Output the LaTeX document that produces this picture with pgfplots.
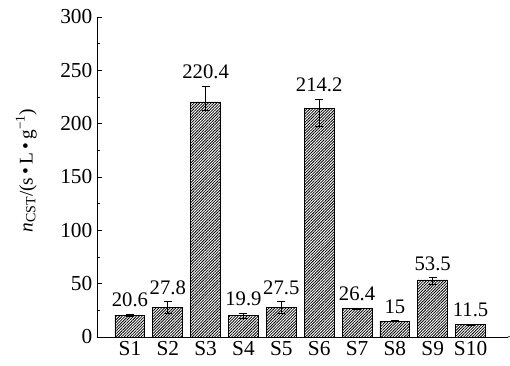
\documentclass[border=0pt]{standalone}
\usepackage{fontspec}
\setmainfont{Liberation Serif}
\usepackage{pgfplots}
\pgfplotsset{compat=1.18}
\usepackage{pgfplotstable}
\usetikzlibrary{patterns.meta}

% sample, value, upper and lower error
\pgfplotstableread{
x  y      ep    em
0  20.6   1.0   1.0
1  27.8   5.5   5.5
2  220.4  15.0  8.0
3  19.9   2.5   2.5
4  27.5   5.5   5.5
5  214.2  9.0   17.0
6  26.4   0.8   0.8
7  15.0   0.6   0.6
8  53.5   2.0   4.0
9  11.5   0.6   0.6
}\cstdata

\begin{document}
\begin{tikzpicture}
\begin{axis}[
  name=ax,
  scale only axis,
  width=308pt, height=240pt,
  xmin=-0.87, xmax=9.98,
  ymin=0, ymax=300,
  axis lines=left,
  axis line style={-, line width=0.6pt},
  ytick={0,50,...,300},
  minor y tick num=1,
  tick align=inside,
  major tick length=4pt,
  minor tick length=2.5pt,
  tick style={black, line width=0.6pt},
  xtick={0,...,9},
  xticklabels={S1,S2,S3,S4,S5,S6,S7,S8,S9,S10},
  x tick style={draw=none},
  /pgf/number format/assume math mode=true,
  tick label style={font=\fontsize{16}{18}\selectfont},
  ylabel={\textit{n}\raisebox{-0.3ex}{\fontsize{10.5}{11}\selectfont CST}/(s\,\raisebox{0.1ex}{•}\,L\,\raisebox{0.1ex}{•}\,g\raisebox{0.9ex}{\fontsize{10}{11}\selectfont\textminus1})},
  every axis y label/.style={at={(rel axis cs:0,0.52)}, xshift=-61pt,
    rotate=90, anchor=north, inner sep=0pt, font=\fontsize{14.5}{16}\selectfont},
  clip=false,
]
\addplot[ybar, bar width=0.79, draw=black, line width=0.6pt,
  pattern={Lines[angle=45, distance=1.5pt, line width=0.6pt]},
  error bars/.cd, y dir=both, y explicit,
  error bar style={black, line width=0.6pt},
  error mark options={rotate=90, mark size=3pt, black, line width=0.6pt}]
  table[x=x, y=y, y error plus=ep, y error minus=em] {\cstdata};
% value labels above the error bars
\addplot[draw=none, mark=none, nodes near coords, point meta=explicit,
  every node near coord/.append style={font=\fontsize{15.5}{17}\selectfont,
    anchor=south, inner sep=0pt, yshift=5pt}]
  table[x=x, y expr=\thisrow{y}+\thisrow{ep}, meta=y] {\cstdata};
\draw[line width=0.6pt] (rel axis cs:1,0) -- ++(0,3pt);
\end{axis}
\pgfresetboundingbox
\path (ax.south west) ++(-72.75pt,-21pt) rectangle ++(382.5pt,273.75pt);
\end{tikzpicture}
\end{document}
